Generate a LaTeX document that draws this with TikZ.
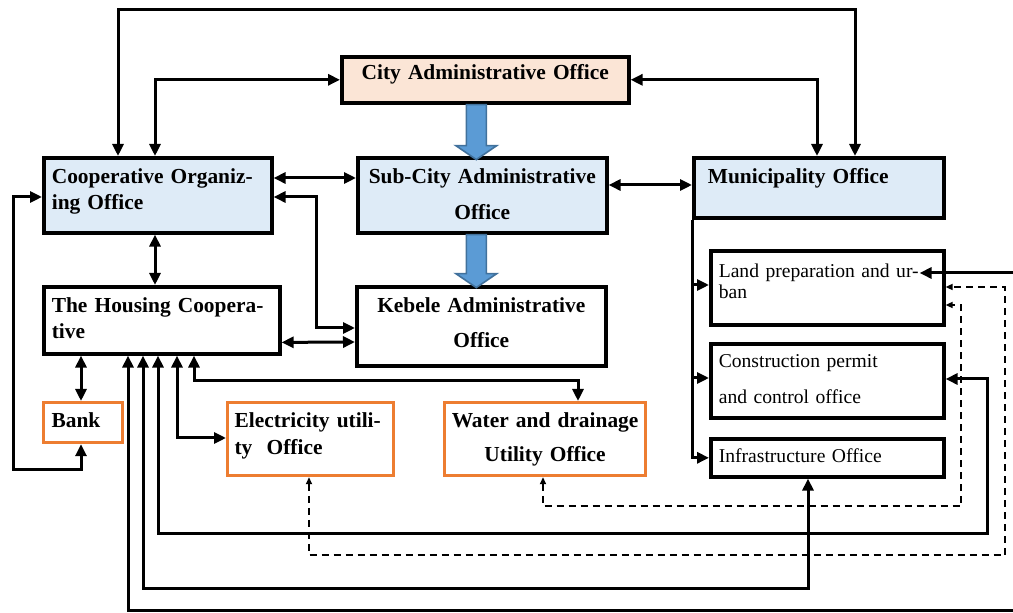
\documentclass[tikz,border=0pt]{standalone}
\usepackage{fontspec}
\setmainfont{Liberation Serif}
\usepackage{tikz}
\usetikzlibrary{arrows.meta}

\definecolor{cityfill}{HTML}{FBE5D6}
\definecolor{officeblue}{HTML}{DEEBF7}
\definecolor{utilorange}{HTML}{ED7D31}
\definecolor{arrowblue}{HTML}{5B9BD5}
\definecolor{arrowedge}{HTML}{41719C}

\begin{document}
\begin{tikzpicture}[x=0.5pt,y=-0.5pt,>={Triangle[length=6pt,width=5.5pt]},
  office/.style={draw,line width=1.8pt,anchor=north west,inner ysep=0pt,
    font=\bfseries\fontsize{10.7}{13}\selectfont},
  unit node/.style={office,draw=utilorange,line width=1.6pt},
  sub node/.style={office,font=\fontsize{9.8}{12}\selectfont,text width=108.5pt,
    inner xsep=4pt,align=left},
  link/.style={<->,line width=1.5pt},
  feed/.style={->,line width=1.5pt},
  dash link/.style={<->,line width=0.8pt,dash pattern=on 3.5pt off 2.5pt,
    >={Triangle[length=3.5pt,width=3pt]}},
  fat arrow/.style={fill=arrowblue,draw=arrowedge,line width=0.8pt}]
  \useasboundingbox (0,0) rectangle (1013,613);

  % offices
  \node[office,fill=cityfill,text width=135.5pt,inner xsep=4pt,align=center,
    text height=11.5pt,text depth=11.5pt] (city) at (340,55) {City Administrative Office};
  \node[office,fill=officeblue,text width=106pt,inner xsep=4pt,align=left,
    text height=13pt,text depth=24.5pt] (coop) at (42,156) {Cooperative Organiz-\\ing Office};
  \node[office,fill=officeblue,text width=116.5pt,inner xsep=4pt,align=center,
    text height=13pt,text depth=24.5pt,font=\bfseries\fontsize{10.7}{18}\selectfont]
    (subcity) at (356,156) {Sub-City Administrative\\Office};
  \node[office,fill=officeblue,text width=111pt,inner xsep=7pt,align=left,
    text height=13pt,text depth=17pt] (muni) at (692,156) {Municipality Office};
  \node[office,text width=110pt,inner xsep=4pt,align=left,
    text height=13pt,text depth=20.5pt] (housing) at (42,285) {The Housing Coopera-\\tive};
  \node[office,text width=116.5pt,inner xsep=4pt,align=center,
    text height=13pt,text depth=26.5pt,font=\bfseries\fontsize{10.7}{17.5}\selectfont]
    (kebele) at (355,285) {Kebele Administrative\\Office};

  % utilities
  \node[unit node,text width=31.5pt,inner xsep=4pt,align=left,
    text height=12.5pt,text depth=7.5pt] (bank) at (42,401) {Bank};
  \node[unit node,text width=76pt,inner xsep=3.5pt,align=left,
    text height=12.5pt,text depth=24pt,font=\bfseries\fontsize{10.7}{13.5}\selectfont]
    (elec) at (226,401) {Electricity utili-\\ty\ \ Office};
  \node[unit node,text width=96.5pt,inner xsep=2pt,align=center,
    text height=12.5pt,text depth=24pt,font=\bfseries\fontsize{10.7}{17}\selectfont]
    (water) at (443,401) {Water and drainage\\Utility Office};

  % municipality sections
  \node[sub node,text height=13.5pt,text depth=23.5pt,font=\fontsize{9.8}{10.5}\selectfont]
    (land) at (709,249) {Land preparation and ur-\\ban};
  \node[sub node,text height=12pt,text depth=25pt,font=\fontsize{9.8}{18}\selectfont]
    (permit) at (709,342) {Construction permit\\and control office};
  \node[sub node,text height=12pt,text depth=7pt] (infra) at (709,437) {Infrastructure Office};

  % chain of command
  \draw[fat arrow] ([xshift=-9.5pt]city.south) -- ++(0,41) -- ++(-10.5,0) -- ++(20.5,14)
    -- ++(20.5,-14) -- ++(-10.5,0) -- ++(0,-41) -- cycle;
  \draw[fat arrow] ([xshift=-8pt]subcity.south) -- ++(0,39) -- ++(-10.5,0) -- ++(20.5,14)
    -- ++(20.5,-14) -- ++(-10.5,0) -- ++(0,-39) -- cycle;

  \draw[link] ([xshift=38pt]coop.north west) -- ++(0,-146) -| ([xshift=81.5pt]muni.north west);
  \draw[link] ([xshift=56.5pt]coop.north west) |- (city.west);
  \draw[link] (city.east) -| ([xshift=62.5pt]muni.north west);
  \draw[link] ([yshift=-11pt]coop.north east) -- ([yshift=-11pt]subcity.north west);
  \draw[link] ([yshift=-14.5pt]subcity.north east) -- ([yshift=-14.5pt]muni.north west);
  \draw[link] ([yshift=-20.5pt]coop.north east) -- ++(43,0) |- ([yshift=-21.5pt]kebele.north west);
  \draw[link] ([xshift=56.5pt]coop.south west) -- ([xshift=56.5pt]housing.north west);
  \draw[link] ([yshift=6.6pt]housing.south east) -- ([yshift=-28.5pt]kebele.north west);

  % housing cooperative links
  \draw[link] ([xshift=19.5pt]housing.south west) -- ([xshift=19.5pt]bank.north west);
  \draw[link] ([yshift=-20.5pt]coop.north west) -- ++(-29,0) -- ++(0,273)
    -| ([xshift=19.5pt]bank.south west);
  \draw[link] ([xshift=67.5pt]housing.south west) |- ([yshift=-18.5pt]elec.north west);
  \draw[link] ([xshift=76pt]housing.south west) -- ++(0,25) -| ([xshift=67.5pt]water.north west);
  \draw[link] ([xshift=58pt]housing.south west) -- ++(0,178) -- ++(829,0)
    |- ([yshift=-18.5pt]permit.north east);
  \draw[link] ([xshift=50.5pt]housing.south west) -- ++(0,233) -| ([xshift=49.5pt]infra.south west);
  \draw[link] ([xshift=43pt]housing.south west) -- ++(0,255) -- ++(895,0)
    |- ([shift={(-13pt,-12pt)}]land.north east);

  % municipality to its sections
  \draw[feed] (muni.south west) |- ([yshift=-18pt]land.north west);
  \draw[feed] (muni.south west) |- ([yshift=-18pt]permit.north west);
  \draw[feed] (muni.south west) |- (infra.west);

  % utilities to land preparation
  \draw[dash link] ([xshift=41.5pt]elec.south west) -- ++(0,78) -- ++(696,0)
    |- ([yshift=-19pt]land.north east);
  \draw[dash link] ([xshift=50pt]water.south west) -- ++(0,29) -- ++(418,0)
    |- ([yshift=-28pt]land.north east);
\end{tikzpicture}
\end{document}
